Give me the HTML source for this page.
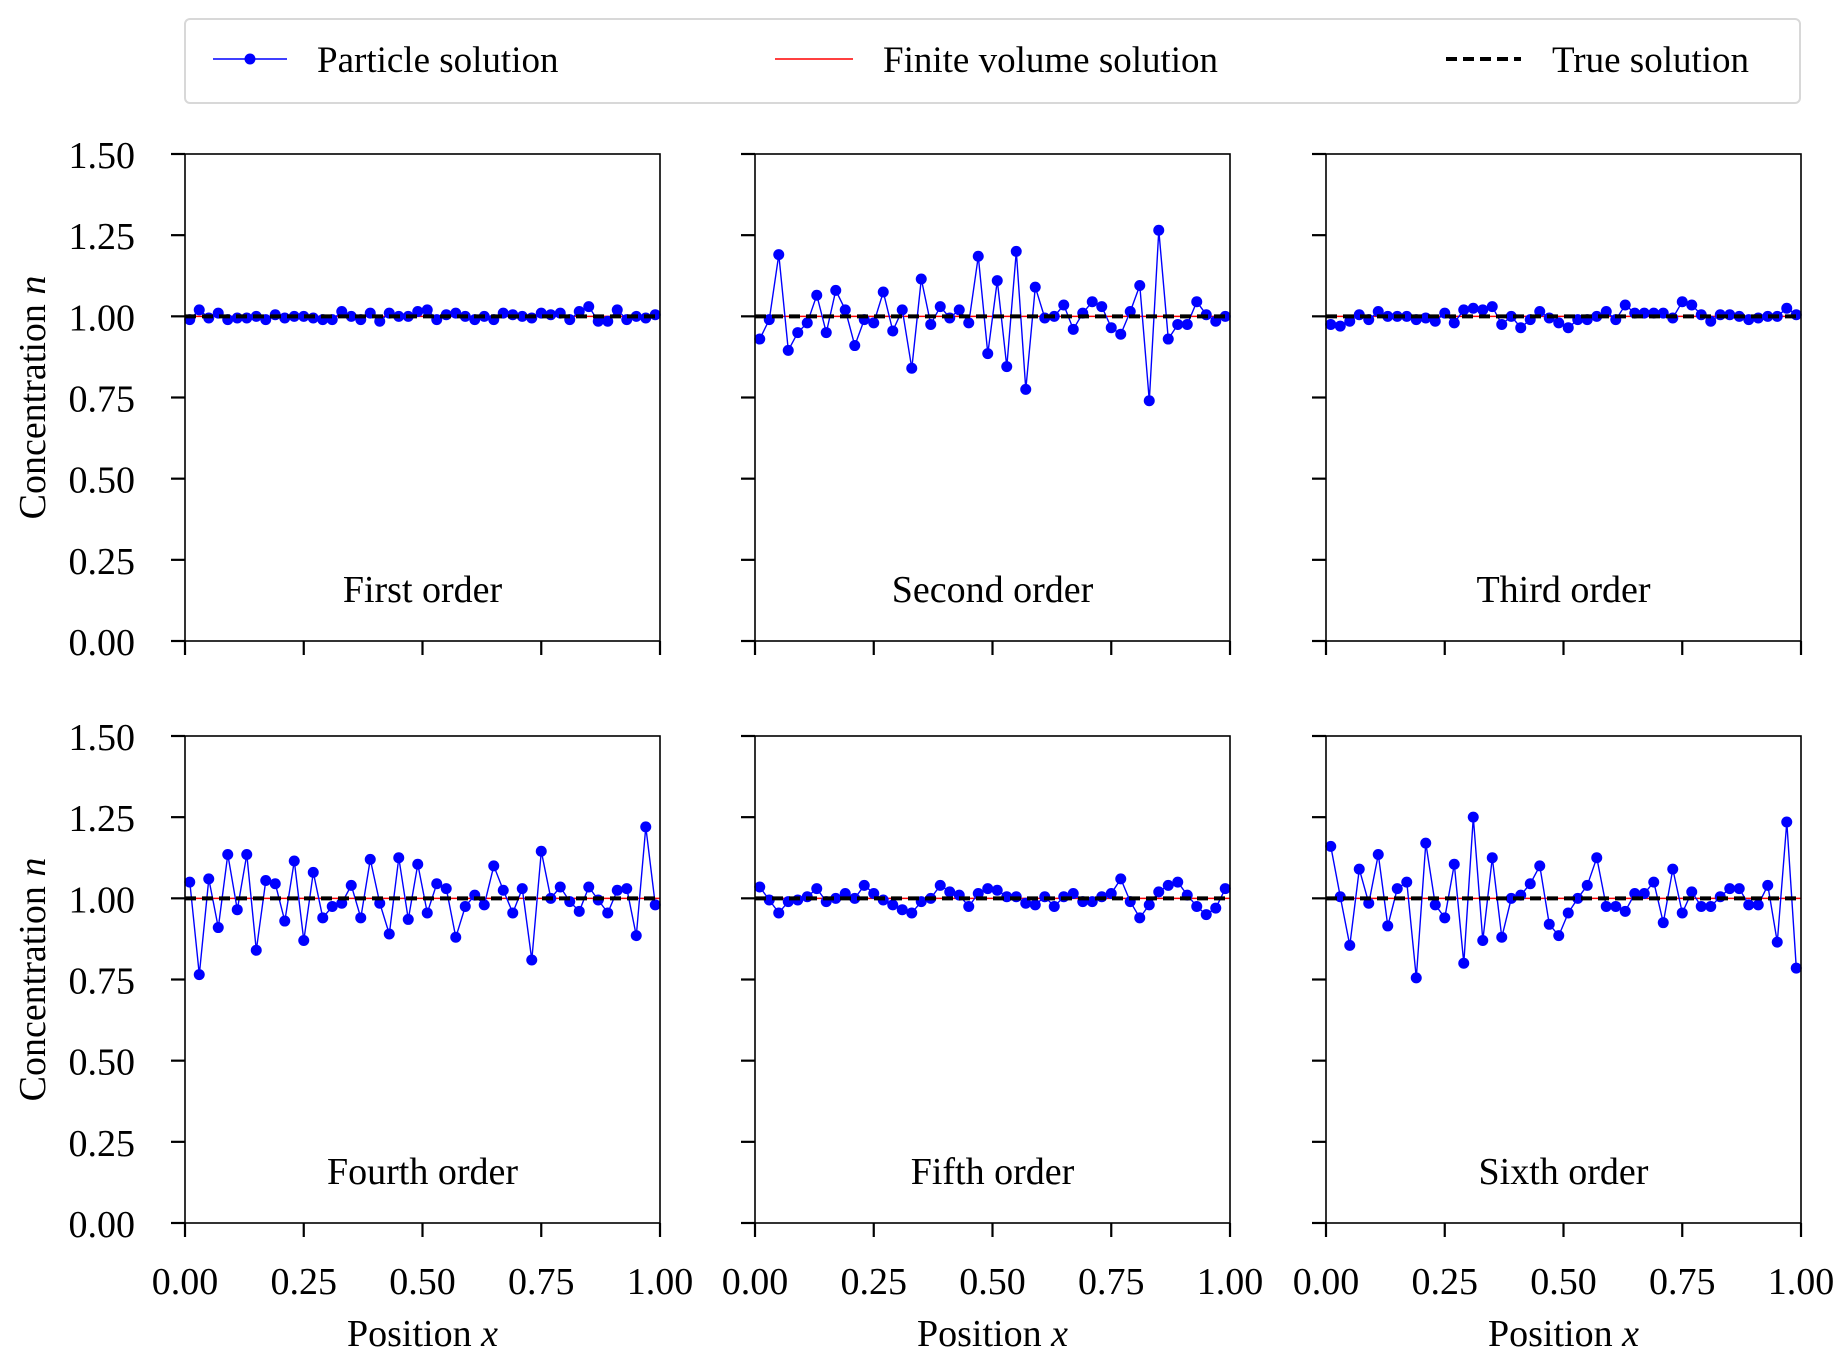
<!DOCTYPE html>
<html><head><meta charset="utf-8"><style>
html,body{margin:0;padding:0;background:#fff;}
svg text{font-family:"Liberation Serif",serif;fill:#000;}
</style></head><body>
<svg id="fig" width="1844" height="1362" xmlns="http://www.w3.org/2000/svg">
<g>
<rect x="185" y="19" width="1615" height="84" rx="5" fill="#fff" stroke="#d8d8d8" stroke-width="2"/>
<line x1="213" y1="59" x2="287" y2="59" stroke="#0000ff" stroke-width="1.5"/>
<circle cx="250" cy="59" r="5.5" fill="#0000ff"/>
<text x="317" y="72" font-size="37">Particle solution</text>
<line x1="775" y1="59" x2="853" y2="59" stroke="#ff0000" stroke-width="1.5"/>
<text x="883" y="72" font-size="37">Finite volume solution</text>
<line x1="1446" y1="59" x2="1521" y2="59" stroke="#000" stroke-width="4" stroke-dasharray="11,6"/>
<text x="1552" y="72" font-size="37">True solution</text>
</g>
<g id="panels"></g>
</svg>
<script>
const titles = ["First order","Second order","Third order","Fourth order","Fifth order","Sixth order"];
const s1 = [0.99,1.02,0.995,1.01,0.99,0.995,0.995,1.0,0.99,1.005,0.995,1.0,1.0,0.995,0.99,0.99,1.015,1.0,0.99,1.01,0.985,1.01,1.0,1.0,1.015,1.02,0.99,1.005,1.01,1.0,0.99,1.0,0.99,1.01,1.005,1.0,0.995,1.01,1.005,1.01,0.99,1.015,1.03,0.985,0.985,1.02,0.99,1.0,0.995,1.005];
const s2 = [0.93,0.99,1.19,0.895,0.95,0.98,1.065,0.95,1.08,1.02,0.91,0.99,0.98,1.075,0.955,1.02,0.84,1.115,0.975,1.03,0.995,1.02,0.98,1.185,0.885,1.11,0.845,1.2,0.775,1.09,0.995,1.0,1.035,0.96,1.01,1.045,1.03,0.965,0.945,1.015,1.095,0.74,1.265,0.93,0.975,0.975,1.045,1.005,0.985,1.0];
const s3 = [0.975,0.97,0.985,1.005,0.99,1.015,1.0,1.0,1.0,0.99,0.995,0.985,1.01,0.98,1.02,1.025,1.02,1.03,0.975,1.0,0.965,0.99,1.015,0.995,0.98,0.965,0.99,0.99,1.0,1.015,0.99,1.035,1.01,1.01,1.01,1.01,0.995,1.045,1.035,1.005,0.985,1.005,1.005,1.0,0.99,0.995,1.0,1.0,1.025,1.005];
const s4 = [1.05,0.765,1.06,0.91,1.135,0.965,1.135,0.84,1.055,1.045,0.93,1.115,0.87,1.08,0.94,0.975,0.985,1.04,0.94,1.12,0.985,0.89,1.125,0.935,1.105,0.955,1.045,1.03,0.88,0.975,1.01,0.98,1.1,1.025,0.955,1.03,0.81,1.145,1.0,1.035,0.99,0.96,1.035,0.995,0.955,1.025,1.03,0.885,1.22,0.98];
const s5 = [1.035,0.995,0.955,0.99,0.995,1.005,1.03,0.99,1.0,1.015,1.0,1.04,1.015,0.995,0.98,0.965,0.955,0.99,1.0,1.04,1.02,1.01,0.975,1.015,1.03,1.025,1.005,1.005,0.985,0.98,1.005,0.975,1.005,1.015,0.99,0.99,1.005,1.015,1.06,0.99,0.94,0.98,1.02,1.04,1.05,1.01,0.975,0.95,0.97,1.03];
const s6 = [1.16,1.005,0.855,1.09,0.985,1.135,0.915,1.03,1.05,0.755,1.17,0.98,0.94,1.105,0.8,1.25,0.87,1.125,0.88,1.0,1.01,1.045,1.1,0.92,0.885,0.955,1.0,1.04,1.125,0.975,0.975,0.96,1.015,1.015,1.05,0.925,1.09,0.955,1.02,0.975,0.975,1.005,1.03,1.03,0.98,0.98,1.04,0.865,1.235,0.785];
const series = [s1,s2,s3,s4,s5,s6];
const trueValue = [1.0];
const yTicks = [0,0.25,0.5,0.75,1.0,1.25,1.5];
const yTickLabels = ["0.00","0.25","0.50","0.75","1.00","1.25","1.50"];
const xTicks = [0,0.25,0.5,0.75,1.0];
const xTickLabels = ["0.00","0.25","0.50","0.75","1.00"];

const NS="http://www.w3.org/2000/svg";
const root=document.getElementById('panels');
const lefts=[185,755,1326], tops=[154,736], W=475, H=487;
function mk(tag,attrs,parent){const e=document.createElementNS(NS,tag);for(const k in attrs)e.setAttribute(k,attrs[k]);parent.appendChild(e);return e;}
series.forEach((vals,p)=>{
  const r=Math.floor(p/3), c=p%3, L=lefts[c], T=tops[r];
  const xs=v=>L+v*W, ys=v=>T+H-(v/1.5)*H;
  const g=mk('g',{},root);
  
  
  const fv=mk('line',{x1:xs(0),x2:xs(1),y1:ys(trueValue[0]),y2:ys(trueValue[0]),stroke:'#ff0000','stroke-width':1.5},g);
  
  
  const pts=vals.map((v,i)=>xs(i*0.02+0.01).toFixed(1)+','+ys(v).toFixed(1)).join(' ');
  const pl=mk('polyline',{points:pts,fill:'none',stroke:'#0000ff','stroke-width':1.4},g);
  
  
  vals.forEach((v,i)=>{
    const ci=mk('circle',{cx:xs(i*0.02+0.01),cy:ys(v),r:5.5,fill:'#0000ff'},g);
    
    
  });
  const tl=mk('line',{x1:xs(0),x2:xs(1),y1:ys(trueValue[0]),y2:ys(trueValue[0]),stroke:'#000','stroke-width':4,'stroke-dasharray':'11,6'},g);
  
  
  const fr=mk('rect',{x:L,y:T,width:W,height:H,fill:'none',stroke:'#000','stroke-width':1.6},g);
  
  
  yTicks.forEach((t,i)=>{
    mk('line',{x1:L-14,x2:L,y1:ys(t),y2:ys(t),stroke:'#000','stroke-width':2.2},g);
    if(c===0){
      const tx=mk('text',{x:L-50,y:ys(t)+14,'font-size':38,'text-anchor':'end'},g);
      tx.textContent=yTickLabels[i];
      
      
    }
  });
  xTicks.forEach((t,i)=>{
    mk('line',{x1:xs(t),x2:xs(t),y1:T+H,y2:T+H+14,stroke:'#000','stroke-width':2.2},g);
    if(r===1){
      const tx=mk('text',{x:xs(t),y:T+H+71,'font-size':38,'text-anchor':'middle'},g);
      tx.textContent=xTickLabels[i];
      
      
    }
  });
  const ti=mk('text',{x:L+W/2,y:T+H-39,'font-size':38,'text-anchor':'middle'},g);
  ti.textContent=titles[p];
  
  
  if(r===1){
    const xl=mk('text',{x:L+W/2,y:T+H+123,'font-size':38,'text-anchor':'middle'},g);
    xl.innerHTML='Position <tspan font-style="italic">x</tspan>';
    
    
  }
  if(c===0){
    const yl=mk('text',{x:0,y:0,'font-size':38,'text-anchor':'middle',transform:'translate(45,'+(T+H/2)+') rotate(-90)'},g);
    yl.innerHTML='Concentration <tspan font-style="italic">n</tspan>';
    
    
  }
});
</script>
</body></html>
